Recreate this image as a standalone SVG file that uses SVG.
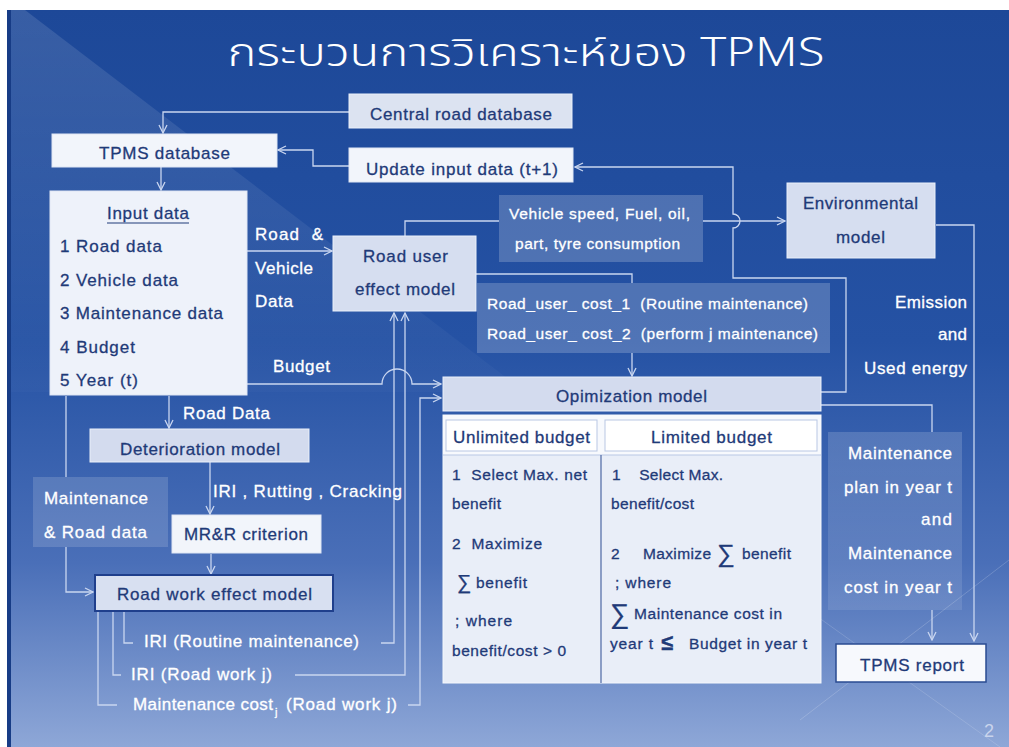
<svg xmlns="http://www.w3.org/2000/svg" width="1009" height="747" viewBox="0 0 1009 747">
<defs>
<linearGradient id="bg" x1="0" y1="0" x2="0" y2="1">
<stop offset="0" stop-color="#1d4898"/>
<stop offset="0.45" stop-color="#2552a4"/>
<stop offset="0.75" stop-color="#4a6fb8"/>
<stop offset="1" stop-color="#8ea7d7"/>
</linearGradient>
<linearGradient id="tri" x1="0" y1="0" x2="0" y2="1">
<stop offset="0" stop-color="#ffffff" stop-opacity="0.12"/>
<stop offset="1" stop-color="#ffffff" stop-opacity="0.02"/>
</linearGradient>
<linearGradient id="mp" x1="0" y1="0" x2="0" y2="1">
<stop offset="0" stop-color="#ffffff" stop-opacity="0.16"/>
<stop offset="1" stop-color="#ffffff" stop-opacity="0.1"/>
</linearGradient>
<marker id="a" viewBox="0 0 10 10" refX="9" refY="5" markerWidth="10" markerHeight="10" markerUnits="userSpaceOnUse" orient="auto">
<path d="M1,1 L9,5 L1,9" fill="none" stroke="#c9d6f0" stroke-width="1.3"/>
</marker>
<style>
.t{font-family:"Liberation Sans",Arial,sans-serif;font-size:17px}
.s{font-size:15.5px}
.dk{fill:#1f3a78;stroke:#1f3a78;stroke-width:0.3}
.wt{fill:#ffffff;stroke:#ffffff;stroke-width:0.3}
.c{text-anchor:middle}
.e{text-anchor:end}
.bl{fill:#d6def0;stroke:#eaf0fa;stroke-width:1}
.bw{fill:#f2f5fb;stroke:#dfe6f4;stroke-width:1}
.bm{fill:#ffffff;fill-opacity:0.2}
.ln{fill:none;stroke:#c9d6f0;stroke-width:1.3}
</style>
</defs>
<rect x="0" y="0" width="1009" height="747" fill="#ffffff"/>
<rect x="7" y="10" width="1002" height="737" fill="url(#bg)"/>
<polygon points="11,10 25,10 525,392 11,392" fill="url(#tri)"/>
<line x1="800" y1="720" x2="1009" y2="560" stroke="#ffffff" stroke-opacity="0.18" stroke-width="1"/>
<line x1="780" y1="590" x2="1000" y2="747" stroke="#ffffff" stroke-opacity="0.15" stroke-width="1"/>
<rect x="7" y="10" width="4" height="737" fill="#173c86"/>

<text x="526" y="66" font-family="'Noto Sans Thai','Noto Sans Thai Looped','Noto Sans','DejaVu Sans',sans-serif" font-size="40" font-weight="300" fill="#ffffff" text-anchor="middle" textLength="597" lengthAdjust="spacingAndGlyphs">กระบวนการวิเคราะห์ของ TPMS</text>

<g id="connectors">
<path class="ln" d="M350,112 H163 V133" marker-end="url(#a)"/>
<path class="ln" d="M349,166 H313 V150 H278" marker-end="url(#a)"/>
<path class="ln" d="M161,167 V190" marker-end="url(#a)"/>
<path class="ln" d="M247,251 H332" marker-end="url(#a)"/>
<path class="ln" d="M405,236 V221 H499"/>
<path class="ln" d="M703,221 H785" marker-end="url(#a)"/>
<path class="ln" d="M476,274 H632 V283"/>
<path class="ln" d="M632,353 V376" marker-end="url(#a)"/>
<path class="ln" d="M821,392 H846 V278 H733 V228 A7,7 0 0 0 733,214 V167 H575" marker-end="url(#a)"/>
<path class="ln" d="M936,225 H974 V641" marker-end="url(#a)"/>
<path class="ln" d="M821,405 H932 V432"/>
<path class="ln" d="M932,610 V640" marker-end="url(#a)"/>
<path class="ln" d="M247,384 H382 A15,15 0 0 1 412,384 H441" marker-end="url(#a)"/>
<path class="ln" d="M408,705 H420 V398 H441" marker-end="url(#a)"/>
<path class="ln" d="M295,675 H405 V313" marker-end="url(#a)"/>
<path class="ln" d="M381,643 H394 V313" marker-end="url(#a)"/>
<path class="ln" d="M124,612 V643 H133"/>
<path class="ln" d="M113,612 V675 H121"/>
<path class="ln" d="M98,612 V705 H117"/>
<path class="ln" d="M169,396 V428" marker-end="url(#a)"/>
<path class="ln" d="M210,462 V514" marker-end="url(#a)"/>
<path class="ln" d="M211,554 V574" marker-end="url(#a)"/>
<path class="ln" d="M66,396 V477"/>
<path class="ln" d="M66,547 V592 H93" marker-end="url(#a)"/>
</g>

<g id="central-db">
<rect class="bl" x="349" y="94" width="223" height="34" style="fill:#dce3f1"/>
<text class="t dk" x="370" y="120" textLength="182">Central road database</text>
</g>
<g id="tpms-db">
<rect class="bw" x="52" y="134" width="225" height="33"/>
<text class="t dk" x="99" y="159" textLength="131">TPMS database</text>
</g>
<g id="update-input">
<rect class="bw" x="349" y="148" width="224" height="34"/>
<text class="t dk" x="366" y="175" textLength="192">Update input data (t+1)</text>
</g>
<g id="input-data">
<rect class="bw" x="50" y="191" width="197" height="204" style="fill:#eef2fa"/>
<text class="t dk" x="107" y="219" textLength="82">Input data</text>
<line x1="107" y1="223" x2="189" y2="223" stroke="#1f3a78" stroke-width="1.2"/>
<text class="t dk" x="60" y="252" textLength="102">1 Road data</text>
<text class="t dk" x="60" y="286" textLength="118">2 Vehicle data</text>
<text class="t dk" x="60" y="319" textLength="163">3 Maintenance data</text>
<text class="t dk" x="60" y="353" textLength="75">4 Budget</text>
<text class="t dk" x="60" y="386" textLength="78">5 Year (t)</text>
</g>
<g id="label-road-vehicle">
<text class="t wt" x="255" y="240" textLength="68" xml:space="preserve">Road  &amp;</text>
<text class="t wt" x="255" y="274" textLength="58">Vehicle</text>
<text class="t wt" x="255" y="307" textLength="38">Data</text>
</g>
<g id="label-budget"><text class="t wt" x="273" y="372" textLength="57">Budget</text></g>
<g id="road-user-effect">
<rect class="bl" x="333" y="236" width="143" height="75"/>
<text class="t dk" x="363" y="262" textLength="85">Road user</text>
<text class="t dk" x="355" y="295" textLength="100">effect model</text>
</g>
<g id="vehicle-speed">
<rect class="bm" x="499" y="195" width="204" height="67"/>
<text class="t s wt" x="509" y="219" textLength="181">Vehicle speed, Fuel, oil,</text>
<text class="t s wt" x="515" y="249" textLength="165">part, tyre consumption</text>
</g>
<g id="environmental">
<rect class="bl" x="787" y="183" width="148" height="75"/>
<text class="t dk" x="803" y="209" textLength="115">Environmental</text>
<text class="t dk" x="836" y="243" textLength="49">model</text>
</g>
<g id="road-user-cost">
<rect class="bm" x="477" y="283" width="353" height="70"/>
<text class="t s wt" x="487" y="309" textLength="321" xml:space="preserve">Road_user_ cost_1  (Routine maintenance)</text>
<text class="t s wt" x="487" y="339" textLength="331" xml:space="preserve">Road_user_ cost_2  (perform j maintenance)</text>
</g>
<g id="emission">
<text class="t wt" x="895" y="308" textLength="72">Emission</text>
<text class="t wt" x="938" y="340" textLength="29">and</text>
<text class="t wt" x="864" y="374" textLength="103">Used energy</text>
</g>
<g id="optimization">
<rect class="bl" x="443" y="377" width="378" height="34" style="fill:#d3dbee"/>
<text class="t dk" x="556" y="402" textLength="151">Opimization model</text>
</g>
<g id="budget-table">
<rect x="443" y="415" width="378" height="268" fill="#e9eef8" stroke="#f4f7fc" stroke-width="1"/>
<rect x="443" y="415" width="378" height="40" fill="#f7f9fd"/>
<rect x="446" y="420" width="151" height="31" fill="#ffffff" stroke="#b9c7e4" stroke-width="1"/>
<rect x="605" y="420" width="212" height="31" fill="#ffffff" stroke="#b9c7e4" stroke-width="1"/>
<line x1="443" y1="455" x2="821" y2="455" stroke="#b9c7e4" stroke-width="1"/>
<line x1="601" y1="455" x2="601" y2="683" stroke="#4d68a4" stroke-width="1.2"/>
<text class="t dk" x="453" y="443" textLength="137">Unlimited budget</text>
<text class="t dk" x="651" y="443" textLength="121">Limited budget</text>
<text class="t s dk" x="452" y="480" textLength="135" xml:space="preserve">1  Select Max. net</text>
<text class="t s dk" x="452" y="509" textLength="49">benefit</text>
<text class="t s dk" x="452" y="549" textLength="90" xml:space="preserve">2  Maximize</text>
<text class="t dk" x="457" y="589" style="font-size:20px">∑</text>
<text class="t s dk" x="476" y="588" textLength="51">benefit</text>
<text class="t s dk" x="455" y="626" textLength="57">; where</text>
<text class="t s dk" x="452" y="656" textLength="114">benefit/cost &gt; 0</text>
<text class="t s dk" x="612" y="480" textLength="111" xml:space="preserve">1    Select Max.</text>
<text class="t s dk" x="611" y="509" textLength="83">benefit/cost</text>
<text class="t s dk" x="611" y="559">2</text>
<text class="t s dk" x="643" y="559" textLength="68">Maximize</text>
<text class="t dk" x="717" y="562" style="font-size:25px">∑</text>
<text class="t s dk" x="742" y="559" textLength="49">benefit</text>
<text class="t s dk" x="615" y="588" textLength="56">; where</text>
<text class="t dk" x="610" y="623" style="font-size:27px">∑</text>
<text class="t s dk" x="634" y="619" textLength="148">Maintenance cost in</text>
<text class="t s dk" x="610" y="649" textLength="43">year t</text>
<text class="t dk" x="661" y="650" style="font-size:22px;font-weight:bold">≤</text>
<text class="t s dk" x="689" y="649" textLength="118">Budget in year t</text>
</g>
<g id="maintenance-plan">
<rect x="828" y="432" width="134" height="178" fill="url(#mp)"/>
<text class="t wt" x="848" y="459" textLength="104">Maintenance</text>
<text class="t wt" x="844" y="493" textLength="108">plan in year t</text>
<text class="t wt" x="921" y="525" textLength="31">and</text>
<text class="t wt" x="848" y="559" textLength="104">Maintenance</text>
<text class="t wt" x="844" y="593" textLength="108">cost in year t</text>
</g>
<g id="tpms-report">
<rect x="836" y="644" width="150" height="38" fill="#f7f9fd" stroke="#2a4b91" stroke-width="1.5"/>
<text class="t dk" x="860" y="671" textLength="104">TPMS report</text>
</g>
<g id="label-road-data"><text class="t wt" x="183" y="419" textLength="87">Road Data</text></g>
<g id="deterioration">
<rect class="bl" x="90" y="429" width="219" height="33" style="fill:#d3dbee"/>
<text class="t dk" x="120" y="455" textLength="160">Deterioration model</text>
</g>
<g id="maint-road-data">
<rect class="bm" x="33" y="477" width="135" height="70" style="fill-opacity:0.15"/>
<text class="t wt" x="44" y="504" textLength="104">Maintenance</text>
<text class="t wt" x="44" y="538" textLength="103">&amp; Road data</text>
</g>
<g id="label-iri"><text class="t wt" x="213" y="497" textLength="189">IRI , Rutting , Cracking</text></g>
<g id="mrr">
<rect class="bw" x="172" y="515" width="149" height="38"/>
<text class="t dk" x="184" y="540" textLength="124">MR&amp;R criterion</text>
</g>
<g id="road-work-effect">
<rect x="95" y="575" width="238" height="36" fill="#d8e0f1" stroke="#1f3f8c" stroke-width="2"/>
<text class="t dk" x="117" y="600" textLength="195">Road work effect model</text>
</g>
<g id="outputs">
<text class="t wt" x="144" y="647" textLength="215">IRI (Routine maintenance)</text>
<text class="t wt" x="131" y="680" textLength="141">IRI (Road work j)</text>
<text class="t wt" x="133" y="710" textLength="140">Maintenance cost</text>
<text class="t wt" x="275" y="716" style="font-size:11px">j</text>
<text class="t wt" x="286" y="710" textLength="111">(Road work j)</text>
</g>
<text x="989" y="737" font-family="'Liberation Sans',Arial,sans-serif" font-size="18" fill="#c9d4ec" text-anchor="middle">2</text>
</svg>
